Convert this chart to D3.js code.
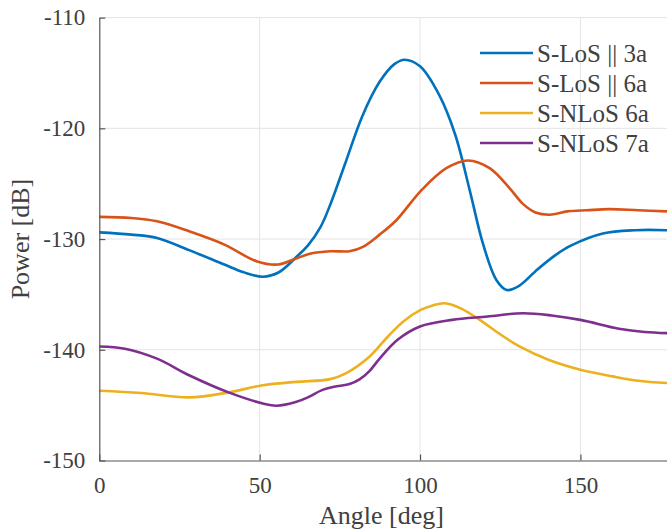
<!DOCTYPE html>
<html>
<head>
<meta charset="utf-8">
<script src="https://cdn.jsdelivr.net/npm/d3@7"></script>
<style>
  body { margin: 0; background: #fff; }
  svg { display: block; }
  text { font-family: "Liberation Serif", "DejaVu Serif", serif; fill: #404040; }
</style>
</head>
<body>
<div id="chart"></div>
<script>
// Data
const seriesNames = ["S-LoS || 3a", "S-LoS || 6a", "S-NLoS 6a", "S-NLoS 7a"];
const seriesColors = ["#0072BD", "#D95319", "#EDB120", "#7E2F8E"];

const losAngle3a = [0, 10, 18, 28, 39, 45, 51, 56, 61.5, 65, 69, 72, 77, 82, 87.4, 92, 95.2, 100, 106, 111, 115.5, 119.6, 123.8, 127, 131, 136, 142, 147, 157, 167, 177];
const losPower3a = [-129.4, -129.6, -129.9, -131.0, -132.3, -133.0, -133.4, -133.0, -131.6, -130.6, -128.9, -126.9, -122.9, -118.9, -115.8, -114.2, -113.8, -114.4, -117.0, -120.6, -125.6, -130.4, -133.7, -134.6, -134.2, -132.9, -131.5, -130.6, -129.5, -129.2, -129.2];

const losAngle6a = [0, 10, 18, 28, 39, 49, 55.8, 61, 66, 72, 78, 82.2, 87.4, 92.6, 100.4, 108.2, 115, 121.7, 127.9, 132, 136, 140.4, 146, 152, 159, 168, 177];
const losPower6a = [-128.0, -128.1, -128.4, -129.3, -130.5, -132.0, -132.3, -131.8, -131.3, -131.1, -131.1, -130.7, -129.6, -128.3, -125.6, -123.6, -122.9, -123.6, -125.4, -126.8, -127.6, -127.8, -127.5, -127.4, -127.3, -127.4, -127.5];

const nlosAngle6a = [0, 13, 28, 40.3, 51, 61.5, 72, 77, 84.3, 90, 95, 100.2, 104, 107.7, 113, 118.6, 125, 131, 140, 150, 160, 168, 177];
const nlosPower6a = [-143.7, -143.9, -144.3, -143.85, -143.2, -142.9, -142.65, -142.1, -140.6, -138.8, -137.4, -136.4, -136.0, -135.8, -136.3, -137.3, -138.6, -139.7, -140.9, -141.8, -142.4, -142.8, -143.0];

const nlosAngle7a = [0, 8, 18, 28, 40.3, 51, 55.3, 61.5, 65, 69.8, 74, 78, 81, 84.3, 87.4, 93, 100, 110, 121, 132, 141, 150, 162, 170, 177];
const nlosPower7a = [-139.7, -139.9, -140.8, -142.3, -143.85, -144.85, -145.05, -144.7, -144.3, -143.6, -143.3, -143.1, -142.7, -141.9, -140.8, -139.1, -137.9, -137.3, -137.0, -136.7, -136.9, -137.3, -138.1, -138.4, -138.5];

const xTicks = [0, 50, 100, 150];
const yTicks = [-150, -140, -130, -120, -110];

const allAngles = [losAngle3a, losAngle6a, nlosAngle6a, nlosAngle7a];
const allPowers = [losPower3a, losPower6a, nlosPower6a, nlosPower7a];

// Layout
const W = 667, H = 532;
const margin = { top: 17.6, right: 0, bottom: 71.5, left: 99.3 };
const width = W - margin.left - margin.right,
      height = H - margin.top - margin.bottom;

const svg = d3.select("#chart")
  .append("svg")
    .attr("width", W)
    .attr("height", H);

const g = svg.append("g")
    .attr("transform", `translate(${margin.left},${margin.top})`);

const x = d3.scaleLinear().domain([0, 177]).range([0, width]);
const y = d3.scaleLinear().domain([-150, -110]).range([height, 0]);

// Grid
g.append("g")
  .selectAll("line")
  .data(xTicks.filter(d => d > 0))
  .join("line")
    .attr("x1", d => x(d)).attr("x2", d => x(d))
    .attr("y1", 0).attr("y2", height)
    .attr("stroke", "#e3e3e3").attr("stroke-width", 1);

g.append("g")
  .selectAll("line")
  .data(yTicks.filter(d => d > -150))
  .join("line")
    .attr("x1", 0).attr("x2", width)
    .attr("y1", d => y(d)).attr("y2", d => y(d))
    .attr("stroke", "#e3e3e3").attr("stroke-width", 1);

// Lines
const line = d3.line()
  .x(d => x(d[0]))
  .y(d => y(d[1]))
  .curve(d3.curveCatmullRom.alpha(0.5));

const series = seriesNames.map((name, i) => ({
  name: name,
  color: seriesColors[i],
  values: allAngles[i].map((a, j) => [a, allPowers[i][j]])
}));

g.append("g")
  .selectAll("path")
  .data(series)
  .join("path")
    .attr("d", d => line(d.values))
    .attr("fill", "none")
    .attr("stroke", d => d.color)
    .attr("stroke-width", 2.6);

// Axes (ticks pointing inward, MATLAB style)
const xAxis = g.append("g")
    .attr("transform", `translate(0,${height})`)
    .call(d3.axisBottom(x).tickValues(xTicks).tickSizeInner(-6).tickSizeOuter(0).tickPadding(16));
const yAxis = g.append("g")
    .call(d3.axisLeft(y).tickValues(yTicks).tickFormat(d => String(d).replace("\u2212", "-")).tickSizeInner(-6).tickSizeOuter(0).tickPadding(14));

[xAxis, yAxis].forEach(a => {
  a.select(".domain").attr("stroke", "#555").attr("stroke-width", 1.2);
  a.selectAll(".tick line").attr("stroke", "#555").attr("stroke-width", 1.2);
  a.selectAll(".tick text")
    .style("font-family", '"Liberation Serif", serif')
    .style("font-size", "23px")
    .attr("fill", "#404040");
});

// Axis labels
svg.append("text")
    .attr("x", margin.left + x(88))
    .attr("y", 524)
    .attr("text-anchor", "middle")
    .style("font-size", "26px")
    .text("Angle [deg]");

svg.append("text")
    .attr("transform", `translate(29,${margin.top + height / 2}) rotate(-90)`)
    .attr("text-anchor", "middle")
    .style("font-size", "26px")
    .text("Power [dB]");

// Legend
const legend = svg.append("g")
  .selectAll("g")
  .data(series)
  .join("g")
    .attr("transform", (d, i) => `translate(480,${53 + i * 30})`);

legend.append("line")
    .attr("x1", 0).attr("x2", 53)
    .attr("stroke", d => d.color)
    .attr("stroke-width", 2.6);

legend.append("text")
    .attr("x", 57)
    .attr("dy", "0.35em")
    .style("font-size", "25px")
    .attr("fill", "#262626")
    .style("white-space", "pre")
    .text(d => d.name);
</script>
</body>
</html>
